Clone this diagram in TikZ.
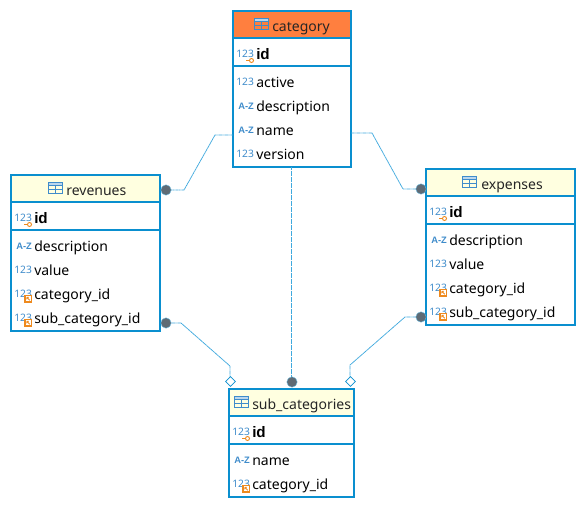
\documentclass[tikz,border=0pt]{standalone}
\usepackage{fontspec}
\setmainfont{Noto Sans}
\newfontfamily\boldface[BoldFont={Liberation Sans Bold}]{Liberation Sans}
\usetikzlibrary{shapes.geometric}
\definecolor{edge}{HTML}{0A8FCF}
\definecolor{ico}{HTML}{3F8CCB}
\definecolor{badge}{HTML}{EE8A1E}
\definecolor{rel}{HTML}{3FA9DE}
\definecolor{dotc}{HTML}{5F6B75}
\definecolor{hdorange}{HTML}{FF7F3F}
\definecolor{hdyellow}{HTML}{FFFFE0}
\newcommand{\idtext}{{\boldface\bfseries\fontsize{11.4pt}{12pt}\selectfont id}}
\newcommand{\aztext}{{\boldface\bfseries\fontsize{7pt}{8pt}\selectfont A-Z}}
\tikzset{
  x=0.75pt,y=-0.75pt,
  tablebox/.style={fill=white,inner sep=0pt,outer sep=0pt,anchor=north west},
  headbox/.style={fill=#1,inner sep=0pt,outer sep=0pt,anchor=north west},
  sepline/.style={draw=edge,line width=0.8pt},
  rowtext/.style={anchor=base west,inner sep=0pt,font=\fontsize{10.5pt}{12pt}\selectfont,text=black},
  titletext/.style={anchor=base west,inner sep=0pt,font=\fontsize{10.5pt}{12pt}\selectfont,text=black!85},
  icontext/.style={anchor=base west,inner sep=0pt,text=ico,font=\fontsize{7.7pt}{8pt}\selectfont},
  relline/.style={draw=rel,line width=0.6pt,dash pattern=on 0.6pt off 0.3pt},
  enddot/.style={circle,fill=dotc,draw=edge!60,line width=0.3pt,inner sep=0pt,minimum size=7.8pt},
  enddiamond/.style={diamond,draw=edge,fill=white,line width=0.5pt,inner sep=0pt,minimum width=7.6pt,minimum height=7.6pt},
  keyb/.style={draw=badge,line width=0.7pt},
}
% table: name, x, y, width, height, header bottom, id-line, header colour
\newcommand{\ertable}[8]{%
  \node[tablebox,minimum width=#4*0.75pt,minimum height=#5*0.75pt] (#1) at (#2,#3) {};
  \node[headbox=#8,minimum width=#4*0.75pt,minimum height=#6*0.75pt] (#1head) at (#2,#3) {};
  \draw[sepline] (#2,#3+#6) -- ++(#4,0);
  \draw[sepline] (#2,#3+#7) -- ++(#4,0);
  \draw[edge,line width=1.8pt] (#1.north west) rectangle (#1.south east);
}
% title: table name, icon x, text x, baseline y, text
\newcommand{\ertitle}[5]{%
  \fill[ico!35!white] (#2,#4-9.5) rectangle ++(14,-3.5);
  \draw[ico,line width=0.75pt] (#2,#4-13) rectangle ++(14,11);
  \draw[ico,line width=0.75pt] (#2,#4-9.5) -- ++(14,0) (#2,#4-5.8) -- ++(14,0) (#2+7,#4-9.5) -- ++(0,7.5);
  \node[titletext] (#1title) at (#3,#4) {#5};
}
% row: name, icon x, text x, baseline y, icon text, text
\newcommand{\errow}[6]{%
  \node[icontext] (#1icon) at (#2,#4-2) {#5};
  \node[rowtext] (#1) at (#3,#4) {#6};
}
\newcommand{\erkey}[2]{% x, y of baseline
  \draw[keyb] (#1+10,#2+1.5) -- ++(4,0);
  \draw[keyb,fill=white] (#1+15.5,#2+1.5) circle (2);
}
\newcommand{\erfk}[2]{%
  \draw[badge,fill=white,line width=0.9pt] (#1+11,#2-3.5) rectangle ++(6.5,6.5);
  \draw[badge,line width=0.6pt] (#1+12.8,#2-1.7) -- ++(3,3) (#1+12.8,#2-1.7) -- ++(2,0) (#1+12.8,#2-1.7) -- ++(0,2);
}
\begin{document}
\begin{tikzpicture}
\useasboundingbox (0,0) rectangle (586,508);
\fill[white] (0,0) rectangle (586,508);

% tables
\ertable{cat}{233}{11}{118}{156}{27}{55}{hdorange}
\ertable{rev}{11}{175}{149}{156}{27}{55}{hdyellow}
\ertable{exp}{426}{169}{149}{156}{27}{55}{hdyellow}
\ertable{sub}{229}{389}{125}{108}{27}{55}{hdyellow}

% titles
\ertitle{cat}{254}{272}{31}{category}
\ertitle{rev}{48}{66}{195}{revenues}
\ertitle{exp}{462}{481}{189}{expenses}
\ertitle{sub}{234}{252}{409}{sub\_categories}

% category rows
\errow{catid}{236}{256}{59}{123}{\idtext}
\erkey{236}{59}
\errow{catactive}{236}{256}{87}{123}{active}
\errow{catdesc}{238}{256}{111}{\aztext}{description}
\errow{catname}{238}{256}{135}{\aztext}{name}
\errow{catver}{236}{256}{159}{123}{version}

% revenues rows
\errow{revid}{14}{34}{223}{123}{\idtext}
\erkey{14}{223}
\errow{revdesc}{16}{34}{251}{\aztext}{description}
\errow{revval}{14}{34}{275}{123}{value}
\errow{revcat}{14}{34}{299}{123}{category\_id}
\erfk{14}{299}
\errow{revsub}{14}{34}{323}{123}{sub\_category\_id}
\erfk{14}{323}

% expenses rows
\errow{expid}{429}{449}{217}{123}{\idtext}
\erkey{429}{217}
\errow{expdesc}{431}{449}{245}{\aztext}{description}
\errow{expval}{429}{449}{269}{123}{value}
\errow{expcat}{429}{449}{293}{123}{category\_id}
\erfk{429}{293}
\errow{expsub}{429}{449}{317}{123}{sub\_category\_id}
\erfk{429}{317}

% sub_categories rows
\errow{subid}{232}{252}{437}{123}{\idtext}
\erkey{232}{437}
\errow{subname}{234}{252}{465}{\aztext}{name}
\errow{subcat}{232}{252}{489}{123}{category\_id}
\erfk{232}{489}

% connector ends
\coordinate (catW) at (233,135);
\coordinate (catE) at (351,133);
\coordinate (catS) at (291.5,167);
\coordinate (dotrevtopc) at (166,190);
\coordinate (dotexptopc) at (421,189);
\coordinate (dotsubc) at (292,382);
\coordinate (dotrevbotc) at (166,323);
\coordinate (dotexpbotc) at (421,317);

% connectors
\draw[relline] (catW) -- (215,135) -- (184,190) -- (dotrevtopc);
\draw[relline] (catE) -- (372,133) -- (403,189) -- (dotexptopc);
\draw[relline] (catS) -- (291.5,382);
\draw[relline] (dotrevbotc) -- (181,323) -- (230,366) -- (230,378);
\draw[relline] (dotexpbotc) -- (405,317) -- (350,365) -- (350,378);

\node[enddot] (dotrevtop) at (dotrevtopc) {};
\node[enddot] (dotexptop) at (dotexptopc) {};
\node[enddot] (dotsub) at (dotsubc) {};
\node[enddot] (dotrevbot) at (dotrevbotc) {};
\node[enddot] (dotexpbot) at (dotexpbotc) {};
\node[enddiamond] (diaL) at (230.5,381.5) {};
\node[enddiamond] (diaR) at (350.5,381.5) {};
\end{tikzpicture}
\end{document}
